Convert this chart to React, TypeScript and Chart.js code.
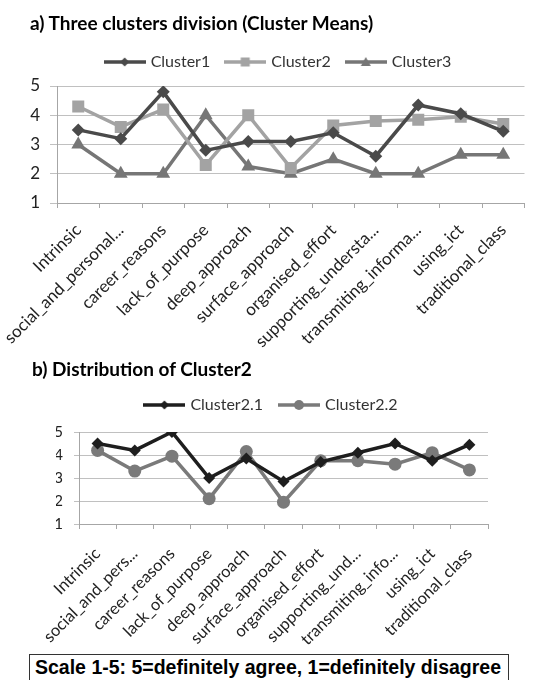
import React, { useEffect, useRef } from "react";
import { Chart, registerables } from "chart.js";

Chart.register(...registerables);

const CATEGORIES_A = [
  "Intrinsic",
  "social_and_personal...",
  "career_reasons",
  "lack_of_purpose",
  "deep_approach",
  "surface_approach",
  "organised_effort",
  "supporting_understa...",
  "transmiting_informa...",
  "using_ict",
  "traditional_class",
];
const CATEGORIES_B = [
  "Intrinsic",
  "social_and_pers...",
  "career_reasons",
  "lack_of_purpose",
  "deep_approach",
  "surface_approach",
  "organised_effort",
  "supporting_und...",
  "transmiting_info...",
  "using_ict",
  "traditional_class",
];

const CLUSTER1 = [3.5, 3.2, 4.8, 2.8, 3.1, 3.1, 3.4, 2.6, 4.35, 4.05, 3.45];
const CLUSTER2 = [4.3, 3.6, 4.2, 2.3, 4.0, 2.2, 3.65, 3.8, 3.85, 3.95, 3.7];
const CLUSTER3 = [3.0, 2.0, 2.0, 4.0, 2.25, 2.0, 2.5, 2.0, 2.0, 2.65, 2.65];

const CLUSTER2_1 = [4.5, 4.2, 5.0, 3.0, 3.85, 2.85, 3.7, 4.1, 4.5, 3.75, 4.45];
const CLUSTER2_2 = [4.2, 3.3, 3.95, 2.1, 4.15, 1.95, 3.75, 3.75, 3.6, 4.1, 3.35];

const Y_MIN = 1;
const Y_MAX = 5;

const TITLE_A = "a) Three clusters division (Cluster Means)";
const TITLE_B = "b) Distribution of Cluster2";
const SCALE_NOTE = "Scale 1-5: 5=definitely agree, 1=definitely disagree";

type Shape = "diamond" | "square" | "triangle" | "circle";

function makeIcon(color: string, shape: Shape, r: number, lineW: number) {
  const c = document.createElement("canvas");
  c.width = 42;
  c.height = 18;
  const ctx = c.getContext("2d")!;
  const cx = 21, cy = 9;
  ctx.strokeStyle = color;
  ctx.lineWidth = lineW;
  ctx.beginPath();
  ctx.moveTo(0, cy);
  ctx.lineTo(42, cy);
  ctx.stroke();
  ctx.fillStyle = color;
  ctx.beginPath();
  if (shape === "diamond") {
    ctx.moveTo(cx, cy - r);
    ctx.lineTo(cx + r, cy);
    ctx.lineTo(cx, cy + r);
    ctx.lineTo(cx - r, cy);
    ctx.closePath();
  } else if (shape === "square") {
    ctx.rect(cx - r, cy - r, 2 * r, 2 * r);
  } else if (shape === "triangle") {
    ctx.moveTo(cx, cy - r);
    ctx.lineTo(cx + r, cy + r * 0.8);
    ctx.lineTo(cx - r, cy + r * 0.8);
    ctx.closePath();
  } else {
    ctx.arc(cx, cy, r, 0, Math.PI * 2);
  }
  ctx.fill();
  return c;
}

const legendGap = (extra: number) => ({
  id: "legendGap",
  afterInit(chart: any) {
    const lg = chart.legend;
    if (!lg) return;
    const orig = lg.fit.bind(lg);
    lg.fit = function () {
      orig();
      this.height += extra;
    };
  },
});

type SeriesDef = {
  label: string;
  data: number[];
  color: string;
  pointStyle: string;
  radius: number;
  width: number;
  icon: Shape;
  iconR: number;
};

type ChartProps = {
  width: number;
  height: number;
  top: number;
  labels: string[];
  series: SeriesDef[];
  padLeft: number;
  padRight: number;
  padTop: number;
  legendPad: number;
  legendExtra: number;
  yWidth: number;
  xHeight: number;
  yFont: number;
  xFont: number;
  xPad: number;
  yTickLen: number;
  yTickPad: number;
};

function LineChart(p: ChartProps) {
  const ref = useRef<HTMLCanvasElement | null>(null);
  useEffect(() => {
    if (!ref.current) return;
    const icons = p.series.map((s) => makeIcon(s.color, s.icon, s.iconR, s.width));
    const chart = new Chart(ref.current, {
      type: "line",
      data: {
        labels: p.labels,
        datasets: p.series.map((s) => ({
          label: s.label,
          data: s.data,
          borderColor: s.color,
          backgroundColor: s.color,
          borderWidth: s.width,
          pointStyle: s.pointStyle as any,
          pointRadius: s.radius,
          pointBackgroundColor: s.color,
          pointBorderColor: s.color,
          pointBorderWidth: 0,
          tension: 0,
          fill: false,
        })),
      },
      options: {
        animation: false,
        responsive: false,
        layout: { padding: { left: p.padLeft, right: p.padRight, top: p.padTop, bottom: 0 } },
        plugins: {
          tooltip: { enabled: false },
          title: { display: false },
          legend: {
            position: "top",
            labels: {
              usePointStyle: true,
              pointStyleWidth: 36,
              padding: p.legendPad,
              color: "#333",
              font: { family: "Lato", size: 16 },
              generateLabels: (chart: any) => {
                const items = (Chart.defaults as any).plugins.legend.labels.generateLabels(chart);
                return items.map((it: any, i: number) => ({ ...it, pointStyle: icons[i] }));
              },
            },
          },
        },
        scales: {
          x: {
            offset: true,
            grid: {
              offset: true,
              drawOnChartArea: false,
              drawTicks: true,
              tickLength: 5,
              color: "#a6a6a6",
            },
            border: { color: "#a6a6a6" },
            ticks: {
              autoSkip: false,
              maxRotation: 45,
              minRotation: 45,
              padding: p.xPad,
              color: "#222",
              font: { family: "Lato", size: p.xFont },
            },
            afterFit: (s: any) => {
              s.height = p.xHeight;
            },
          },
          y: {
            min: Y_MIN,
            max: Y_MAX,
            ticks: {
              stepSize: 1,
              padding: p.yTickPad,
              color: "#222",
              font: { family: "Lato", size: p.yFont },
            },
            grid: { color: "#c0c0c0", tickLength: p.yTickLen, lineWidth: 1 },
            border: { color: "#a6a6a6" },
            afterFit: (s: any) => {
              s.width = p.yWidth;
            },
          },
        },
      },
      plugins: [legendGap(p.legendExtra)],
    });
    return () => chart.destroy();
  }, []);
  return (
    <canvas
      ref={ref}
      width={p.width}
      height={p.height}
      style={{ position: "absolute", left: 0, top: p.top, display: "block", width: p.width, height: p.height }}
    />
  );
}

const SERIES_A: SeriesDef[] = [
  { label: "Cluster1", data: CLUSTER1, color: "#4a4a4a", pointStyle: "rectRot", radius: 6.5, width: 3.5, icon: "diamond", iconR: 4.5 },
  { label: "Cluster2", data: CLUSTER2, color: "#a3a3a3", pointStyle: "rect", radius: 8.5, width: 3.5, icon: "square", iconR: 4.5 },
  { label: "Cluster3", data: CLUSTER3, color: "#767676", pointStyle: "triangle", radius: 8, width: 3.5, icon: "triangle", iconR: 5 },
];

const SERIES_B: SeriesDef[] = [
  { label: "Cluster2.1", data: CLUSTER2_1, color: "#1e1e1e", pointStyle: "rectRot", radius: 6, width: 3.5, icon: "diamond", iconR: 4.5 },
  { label: "Cluster2.2", data: CLUSTER2_2, color: "#7a7a7a", pointStyle: "circle", radius: 6.5, width: 3.5, icon: "circle", iconR: 5 },
];

export default function App() {
  return (
    <div style={{ position: "absolute", left: 0, top: 0, width: 533, height: 680, overflow: "hidden", background: "#fff" }}>
      <LineChart
        width={533}
        height={352}
        top={0}
        labels={CATEGORIES_A}
        series={SERIES_A}
        padLeft={26}
        padRight={1}
        padTop={37}
        legendPad={17}
        legendExtra={6}
        yWidth={31}
        xHeight={149}
        yFont={17}
        xFont={17}
        xPad={12}
        yTickLen={7}
        yTickPad={10}
      />
      <LineChart
        width={533}
        height={278}
        top={372}
        labels={CATEGORIES_B}
        series={SERIES_B}
        padLeft={56}
        padRight={45}
        padTop={7}
        legendPad={18}
        legendExtra={9}
        yWidth={23}
        xHeight={126}
        yFont={15}
        xFont={16.5}
        xPad={15}
        yTickLen={5}
        yTickPad={11}
      />
      <div
        style={{
          position: "absolute",
          left: 30,
          top: 12,
          fontFamily: "Lato",
          fontWeight: 700,
          fontSize: 19,
          lineHeight: "22px",
          color: "#000",
          whiteSpace: "nowrap",
        }}
      >
        {TITLE_A}
      </div>
      <div
        style={{
          position: "absolute",
          left: 32,
          top: 358,
          fontFamily: "Lato",
          fontWeight: 700,
          fontSize: 19,
          lineHeight: "22px",
          color: "#000",
          whiteSpace: "nowrap",
        }}
      >
        {TITLE_B}
      </div>
      <div
        style={{
          position: "absolute",
          left: 29,
          top: 654,
          width: 480,
          height: 28,
          boxSizing: "border-box",
          border: "1.5px solid #333",
          paddingLeft: 5,
          fontFamily: "Liberation Sans",
          fontWeight: 700,
          fontSize: 19.5,
          lineHeight: "25px",
          color: "#000",
          whiteSpace: "nowrap",
        }}
      >
        {SCALE_NOTE}
      </div>
    </div>
  );
}
